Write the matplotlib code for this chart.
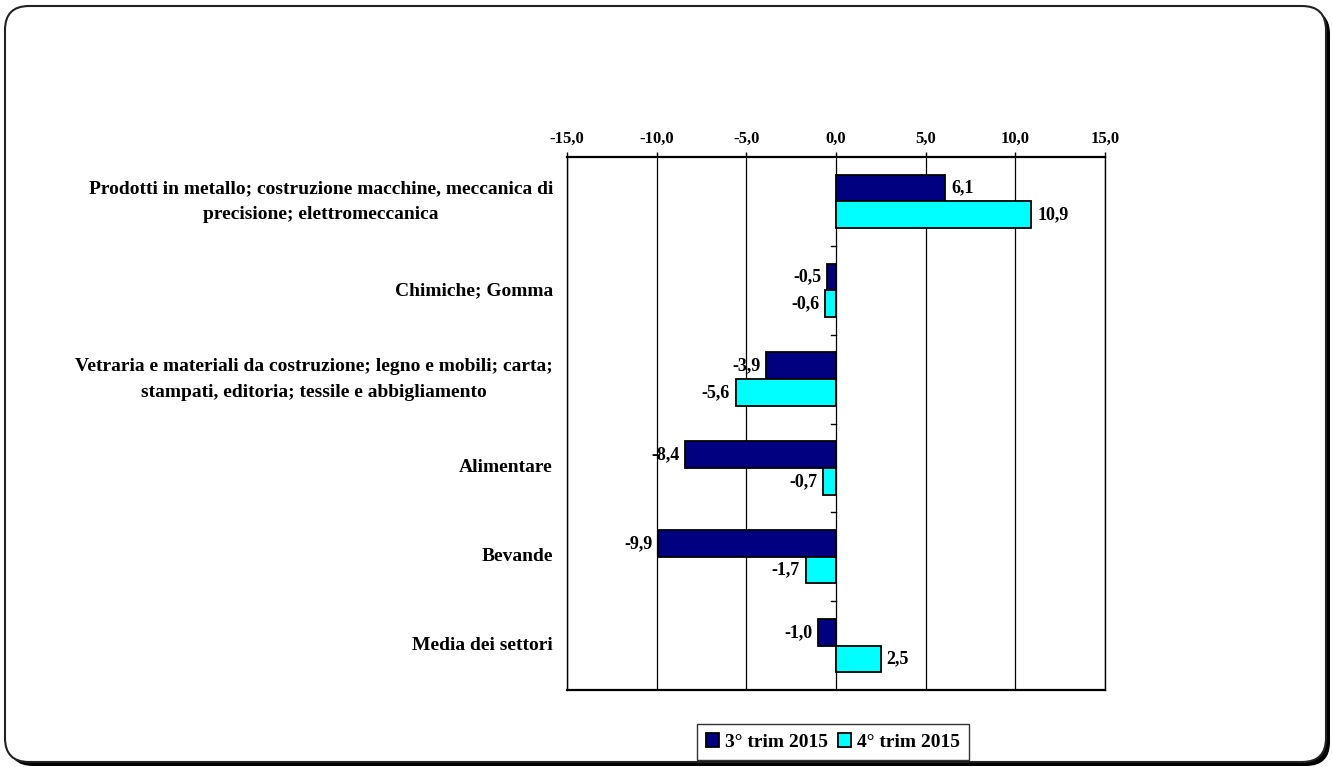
import matplotlib
matplotlib.use("Agg")
import matplotlib.pyplot as plt
import numpy as np
from matplotlib.patches import FancyBboxPatch
from matplotlib.transforms import IdentityTransform

categories = [
    "Prodotti in metallo; costruzione macchine, meccanica di\nprecisione; elettromeccanica",
    "Chimiche; Gomma",
    "Vetraria e materiali da costruzione; legno e mobili; carta;\nstampati, editoria; tessile e abbigliamento",
    "Alimentare",
    "Bevande",
    "Media dei settori",
]
series_names = ["3° trim 2015", "4° trim 2015"]
q3_values = [6.1, -0.5, -3.9, -8.4, -9.9, -1.0]
q4_values = [10.9, -0.6, -5.6, -0.7, -1.7, 2.5]
x_ticks = [-15, -10, -5, 0, 5, 10, 15]
x_tick_labels = ["-15,0", "-10,0", "-5,0", "0,0", "5,0", "10,0", "15,0"]

plt.rcParams['font.family'] = ['Liberation Serif', 'DejaVu Serif']
plt.rcParams['font.weight'] = 'bold'

W, H = 1332, 767
fig = plt.figure(figsize=(W / 100, H / 100), dpi=100)

# rounded frame with shadow
shadow = FancyBboxPatch((9, 1), 1321, 756, boxstyle="round,pad=0,rounding_size=24",
                        transform=IdentityTransform(), facecolor="black", edgecolor="black",
                        linewidth=0, zorder=0)
frame = FancyBboxPatch((5, 5), 1321, 756, boxstyle="round,pad=0,rounding_size=24",
                       transform=IdentityTransform(), facecolor="white", edgecolor="#222222",
                       linewidth=1.5, zorder=1)
fig.patches.extend([shadow, frame])

left, right, top, bottom = 567, 1105, 157, 690
ax = fig.add_axes([left / W, 1 - bottom / H, (right - left) / W, (bottom - top) / H])
ax.set_zorder(2)
ax.patch.set_alpha(0)

y = np.arange(len(categories))
h = 0.3
ax.barh(y - h / 2, q3_values, height=h, color="#000080", edgecolor="black",
        linewidth=1.3, label=series_names[0], zorder=3)
ax.barh(y + h / 2, q4_values, height=h, color="#00FFFF", edgecolor="black",
        linewidth=1.3, label=series_names[1], zorder=3)

for vals, off in ((q3_values, -h / 2), (q4_values, h / 2)):
    for i, v in enumerate(vals):
        txt = f"{v:.1f}".replace(".", ",")
        if v >= 0:
            ax.annotate(txt, (v, i + off), xytext=(4, 0), textcoords="offset points",
                        ha="left", va="center", fontsize=13, fontweight="bold")
        else:
            ax.annotate(txt, (v, i + off), xytext=(-4, 0), textcoords="offset points",
                        ha="right", va="center", fontsize=13, fontweight="bold")

ax.set_xlim(-15, 15)
ax.set_ylim(len(categories) - 0.5, -0.5)
ax.xaxis.tick_top()
ax.set_xticks(x_ticks)
ax.set_xticklabels(x_tick_labels, fontsize=12, fontweight="bold")
ax.tick_params(axis="x", direction="out", length=3.6, width=1, pad=4)
for xv in x_ticks:
    ax.axvline(xv, color="black", linewidth=0.9, zorder=1)

ax.set_yticks([])
ax.tick_params(axis="y", left=False, labelleft=False)
for i, c in enumerate(categories):
    ax.text(-15.78, i, c, ha="right", va="center", fontsize=14, fontweight="bold",
            multialignment="center", linespacing=1.7, transform=ax.transData)
# minor ticks on the zero line between categories
for b in np.arange(0.5, len(categories) - 0.5, 1):
    ax.plot([-0.3, 0], [b, b], color="black", linewidth=1, zorder=2, clip_on=False)

for s in ("top", "bottom"):
    ax.spines[s].set_linewidth(1.6)
for s in ("left", "right"):
    ax.spines[s].set_linewidth(1.0)

leg = ax.legend(loc="center", bbox_to_anchor=((833 - left) / (right - left), (bottom - 742) / (bottom - top)),
                ncol=2, frameon=True, fancybox=False, edgecolor="black",
                prop={"weight": "bold", "size": 14}, handlelength=0.7, handleheight=0.7,
                handletextpad=0.3, columnspacing=0.5, borderpad=0.45, borderaxespad=0)
leg.get_frame().set_linewidth(1.0)

fig.savefig("out.png", dpi=100)
